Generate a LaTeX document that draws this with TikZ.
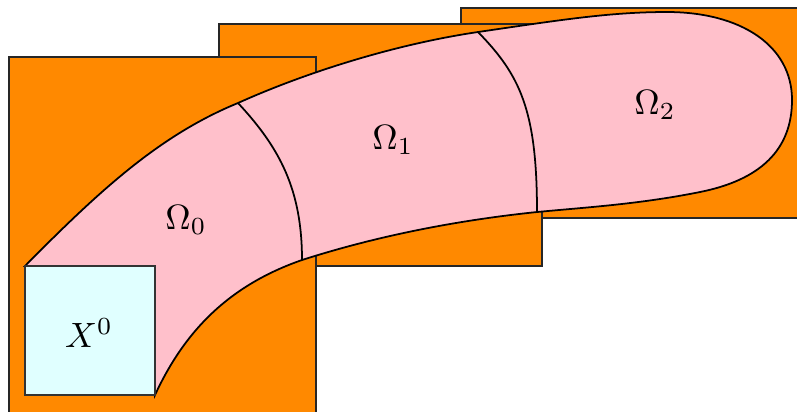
\documentclass[tikz,border=0pt]{standalone}
\usepackage{amsmath}
\definecolor{Naranja}{RGB}{255,137,0}
\definecolor{Rosa}{RGB}{255,192,203}
\definecolor{Celeste}{RGB}{224,255,255}

\begin{document}
\begin{tikzpicture}[x=0.01cm, y=-0.01cm,
	bloque/.style={draw=black!85, fill=Naranja, line width=0.4pt},
	region/.style={draw=black, fill=Rosa, line width=0.5pt},
	corte/.style={draw=black, line width=0.5pt},
	semilla/.style={draw=black!80, fill=Celeste, line width=0.4pt}]
	\useasboundingbox (0,0) rectangle (797,411);
	\clip (0,0) rectangle (797,411);
	\draw[bloque] (461,8) rectangle (830,218);
	\draw[bloque] (219,24) rectangle (542,266);
	\draw[bloque] (9,57) rectangle (316,440);
	\draw[region] (25,266) .. controls (100,190) and (160,135) .. (238,103)
		.. controls (300,75) and (390,45) .. (478,32)
		.. controls (560,20) and (610,12) .. (667,12)
		.. controls (740,12) and (792,45) .. (792,100)
		.. controls (792,150) and (760,180) .. (700,192)
		.. controls (640,204) and (590,207) .. (537,212)
		.. controls (460,220) and (380,235) .. (302,260)
		.. controls (230,285) and (185,330) .. (155,395)
		-- (155,266) -- cycle;
	\draw[corte] (238,103) .. controls (280,148) and (302,190) .. (302,260);
	\draw[corte] (478,32) .. controls (520,75) and (537,110) .. (537,212);
	\draw[semilla] (25,266) rectangle (155,395);
	\node (x0) at (89,333) {$X^0$};
	\node (om0) at (186,220) {$\Omega_0$};
	\node (om1) at (393,140) {$\Omega_1$};
	\node (om2) at (655,105) {$\Omega_2$};
\end{tikzpicture}
\end{document}
